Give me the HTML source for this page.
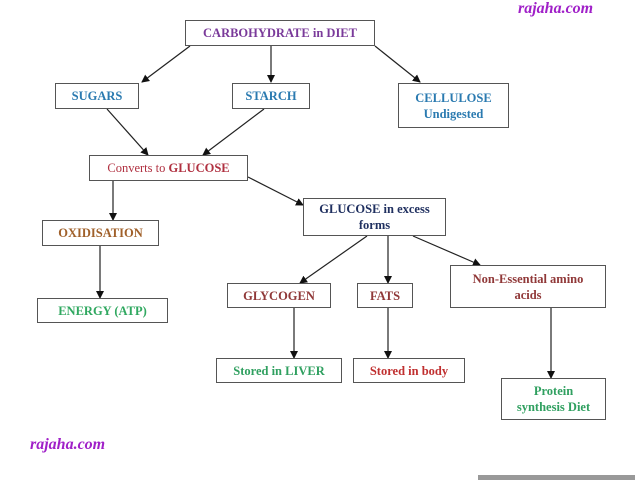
<!DOCTYPE html>
<html><head><style>
body{margin:0;background:#fff;width:640px;height:480px;overflow:hidden;position:relative;font-family:"Liberation Serif",serif;font-weight:bold}
.b{position:absolute;border:1.3px solid #555;box-sizing:border-box;display:flex;align-items:center;justify-content:center;text-align:center;font-size:12.5px;line-height:16px;background:#fff}
.w{position:absolute;color:#a020c8;font-style:italic;font-size:16px}
svg{position:absolute;left:0;top:0}
</style></head><body>
<svg width="640" height="480"><defs><marker id="a" markerWidth="8" markerHeight="8" refX="7" refY="4" orient="auto" markerUnits="userSpaceOnUse"><path d="M0,0L8,4L0,8z" fill="#111"/></marker></defs>
<g stroke="#222" stroke-width="1.2" marker-end="url(#a)">
<line x1="190" y1="46" x2="142" y2="82"/><line x1="271" y1="46" x2="271" y2="82"/><line x1="375" y1="46" x2="420" y2="82"/>
<line x1="107" y1="109" x2="148" y2="155"/><line x1="264" y1="109" x2="203" y2="155"/>
<line x1="248" y1="177" x2="303" y2="205"/><line x1="113" y1="181" x2="113" y2="220"/><line x1="100" y1="246" x2="100" y2="298"/>
<line x1="367" y1="236" x2="300" y2="283"/><line x1="388" y1="236" x2="388" y2="283"/><line x1="413" y1="236" x2="480" y2="265"/>
<line x1="294" y1="308" x2="294" y2="358"/><line x1="388" y1="308" x2="388" y2="358"/><line x1="551" y1="308" x2="551" y2="378"/>
</g><rect x="478" y="475" width="157" height="5" fill="#999"/></svg>
<div class="w" style="left:518px;top:0px">rajaha.com</div>
<div class="w" style="left:30px;top:436px">rajaha.com</div>
<div class="b" style="left:185px;top:20px;width:190px;height:26px;color:#7a3a9a">CARBOHYDRATE in DIET</div>
<div class="b" style="left:55px;top:83px;width:84px;height:26px;color:#2a7ab0">SUGARS</div>
<div class="b" style="left:232px;top:83px;width:78px;height:26px;color:#2a7ab0">STARCH</div>
<div class="b" style="left:398px;top:83px;width:111px;height:45px;color:#2a7ab0">CELLULOSE<br>Undigested</div>
<div class="b" style="left:89px;top:155px;width:159px;height:26px;color:#b03040;font-weight:normal">Converts to&nbsp;<b>GLUCOSE</b></div>
<div class="b" style="left:303px;top:198px;width:143px;height:38px;color:#203060">GLUCOSE in excess<br>forms</div>
<div class="b" style="left:42px;top:220px;width:117px;height:26px;color:#a0602a">OXIDISATION</div>
<div class="b" style="left:37px;top:298px;width:131px;height:25px;color:#30a860">ENERGY (ATP)</div>
<div class="b" style="left:227px;top:283px;width:104px;height:25px;color:#903838">GLYCOGEN</div>
<div class="b" style="left:357px;top:283px;width:56px;height:25px;color:#903838">FATS</div>
<div class="b" style="left:450px;top:265px;width:156px;height:43px;color:#903838">Non-Essential amino<br>acids</div>
<div class="b" style="left:216px;top:358px;width:126px;height:25px;color:#30a060">Stored in LIVER</div>
<div class="b" style="left:353px;top:358px;width:112px;height:25px;color:#c03030">Stored in body</div>
<div class="b" style="left:501px;top:378px;width:105px;height:42px;color:#30a060">Protein<br>synthesis Diet</div>
</body></html>
